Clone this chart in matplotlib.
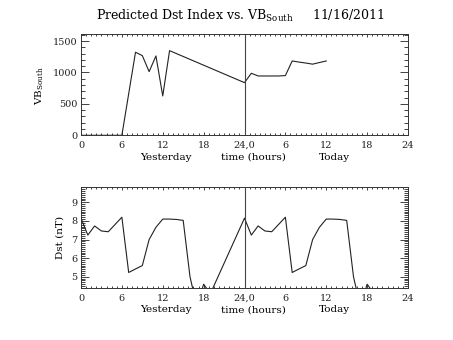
import matplotlib
matplotlib.use("Agg")
import matplotlib.pyplot as plt
from matplotlib.ticker import MultipleLocator, FixedLocator
import numpy as np

plt.rcParams['font.family'] = ['DejaVu Serif']
plt.rcParams['mathtext.fontset'] = 'dejavuserif'

# Hours since the start of yesterday (0-24 yesterday, 24-48 today)
vb_hours = [0, 1, 2, 3, 4, 5, 6, 8, 9, 10, 11, 12, 13, 24, 25, 26, 27, 28, 29,
            30, 31, 32, 33, 34, 35, 36]
vb_south = [0, 0, 0, 0, 0, 0, 0, 1322, 1268, 1013, 1263, 626, 1347, 838, 987,
            944, 944, 944, 944, 950, 1183, 1165, 1150, 1132, 1158, 1183]

dst_hours = [0, 1, 2, 3, 4, 5, 6, 7, 8, 9, 10, 11, 12, 13, 14, 15, 16, 17, 18, 19,
             24, 25, 26, 27, 28, 29, 30, 31, 32, 33, 34, 35, 36, 37, 38, 39, 40,
             41, 42, 43]
dst_nt = [8.15, 7.24, 7.73, 7.46, 7.42, 7.81, 8.20, 5.23, 5.42, 5.60, 7.00, 7.66,
          8.10, 8.10, 8.08, 8.03, 5.00, 3.40, 4.60, 4.10,
          8.15, 7.24, 7.73, 7.46, 7.42, 7.81, 8.20, 5.23, 5.42, 5.60, 7.00, 7.66,
          8.10, 8.10, 8.08, 8.03, 5.00, 3.40, 4.60, 4.10]

xtick_pos = [0, 6, 12, 18, 24, 30, 36, 42, 48]
xtick_labels = ['0', '6', '12', '18', '24,0', '6', '12', '18', '24']

W, H = 453, 340
fig = plt.figure(figsize=(W / 100, H / 100), dpi=100)

ax1 = fig.add_axes([81 / W, 1 - 135.3 / H, 327 / W, 101.8 / H])
ax2 = fig.add_axes([81 / W, 1 - 288.3 / H, 327 / W, 101.6 / H])

line_kw = dict(color='#222222', lw=0.8)

ax1.plot(vb_hours, vb_south, **line_kw)
ax2.plot(dst_hours, dst_nt, **line_kw)

ax1.set_ylim(0, 1620)
ax2.set_ylim(4.38, 9.84)
ax1.yaxis.set_major_locator(MultipleLocator(500))
ax1.yaxis.set_minor_locator(MultipleLocator(100))
ax2.yaxis.set_major_locator(FixedLocator([5, 6, 7, 8, 9]))
ax2.yaxis.set_minor_locator(MultipleLocator(0.1))

for ax in (ax1, ax2):
    ax.axvline(24, color='#444444', lw=0.8)
    ax.set_xlim(0, 48)
    ax.set_xticks(xtick_pos)
    ax.set_xticklabels(xtick_labels)
    ax.xaxis.set_minor_locator(MultipleLocator(0.75))
    ax.tick_params(which='both', direction='in', top=True, right=True,
                   labelsize=7, colors='#222222', width=0.6)
    ax.tick_params(axis='x', which='major', length=2.5, pad=4)
    ax.tick_params(axis='x', which='minor', length=1.2)
    ax.tick_params(axis='y', which='major', length=6, pad=2.5)
    ax.tick_params(axis='y', which='minor', length=3)
    for s in ax.spines.values():
        s.set_linewidth(0.7)
        s.set_color('#333333')

# Secondary x-axis captions below each panel
for ytxt in (157 / H, 310 / H):
    fig.text(165.7 / W, 1 - ytxt, 'Yesterday', ha='center', va='center', fontsize=7.5)
    fig.text(253 / W, 1 - ytxt, 'time (hours)', ha='center', va='center', fontsize=7.5)
    fig.text(334 / W, 1 - ytxt, 'Today', ha='center', va='center', fontsize=7.5)

fig.text(40 / W, 1 - 86 / H, r'VB$_{\mathrm{South}}$', rotation=90,
         ha='center', va='center', fontsize=7.5)
fig.text(60 / W, 1 - 237 / H, 'Dst (nT)', rotation=90,
         ha='center', va='center', fontsize=7.5)

fig.text(240 / W, 1 - 16 / H,
         r'Predicted Dst Index vs. VB$_{\mathrm{South}}$     11/16/2011',
         ha='center', va='center', fontsize=9)

fig.savefig('out.png', dpi=100)
